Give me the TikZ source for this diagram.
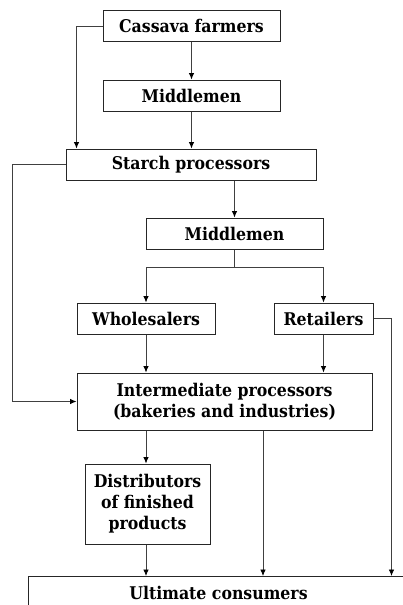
\documentclass[tikz,border=0pt]{standalone}
\usepackage{fontspec}
\setmainfont{DejaVu Serif Condensed}
\usetikzlibrary{arrows.meta,calc}
\begin{document}
\begin{tikzpicture}[x=1pt,y=1pt,
  box/.style={draw=black!85, line width=1pt, inner sep=0pt, align=center,
    font=\fontsize{17.5}{21}\selectfont\bfseries},
  arr/.style={draw=black!75, line width=0.8pt, -{Latex[length=6.5pt,width=5.5pt,color=black]}},
  ln/.style={draw=black!75, line width=0.8pt}]
\useasboundingbox (0,0) rectangle (402,-605);

\node[box, minimum width=177, minimum height=31] (cf) at (191.5,-26) {Cassava farmers};
\node[box, minimum width=177, minimum height=31] (m1) at (191.5,-95.5) {Middlemen};
\node[box, minimum width=250, minimum height=31] (sp) at (191,-164.5) {Starch processors};
\node[box, minimum width=177, minimum height=31] (m2) at (234.5,-233.5) {Middlemen};
\node[box, minimum width=138, minimum height=31] (wh) at (146,-318.5) {Wholesalers};
\node[box, minimum width=99, minimum height=31] (rt) at (323.5,-318.5) {Retailers};
\node[box, minimum width=295, minimum height=57] (ip) at (224.5,-401.5)
  {Intermediate processors\\(bakeries and industries)};
\node[box, minimum width=125, minimum height=80] (ds) at (147.5,-504)
  {Distributors\\of finished\\products};
\node[box, minimum width=380, minimum height=32, anchor=north west] (uc) at (28,-576)
  {Ultimate consumers};

% main chain
\draw[arr] (cf.south) -- (m1.north);
\draw[arr] (m1.south) -- (m1.south |- sp.north);
\draw[arr] (cf.west) -| (wh.west |- sp.north);
\draw[arr] (sp.west) -- ++(-53,0) |- (ip.west);
\draw[arr] (m2.north |- sp.south) -- (m2.north);

% split below the second middlemen
\draw[ln] (m2.south) -- ++(0,-18) coordinate (split);
\draw[arr] (split) -| (wh.north);
\draw[arr] (split) -| (rt.north);

\draw[arr] (wh.south) -- (wh.south |- ip.north);
\draw[arr] (rt.south) -- (rt.south |- ip.north);

% routes to the consumers
\coordinate (rr) at ($(rt.east)+(18,0)$);
\draw[arr] (rt.east) -| (rr |- uc.north);
\draw[arr] (wh.south |- ip.south) -- (wh.south |- ds.north);
\draw[arr] (263,0 |- ip.south) -- (263,0 |- uc.north);
\draw[arr] (wh.south |- ds.south) -- (wh.south |- uc.north);
\end{tikzpicture}
\end{document}
